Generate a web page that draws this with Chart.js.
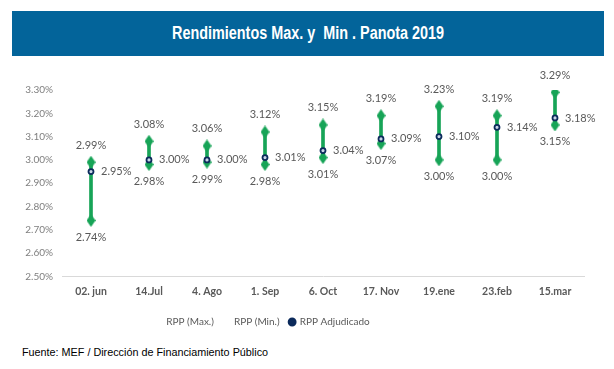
<!DOCTYPE html>
<html>
<head>
<meta charset="utf-8">
<script src="https://cdn.jsdelivr.net/npm/chart.js@4/dist/chart.umd.min.js"></script>
<style>
  body { margin: 0; background: #fff; width: 614px; height: 369px; position: relative; overflow: hidden; }
  #banner {
    position: absolute; left: 12px; top: 11px; width: 592px; height: 45px;
    background: #03649a; color: #fff; text-align: center; line-height: 45px;
  }
  #banner span {
    display: inline-block; transform: scaleX(0.8);
    font-family: 'Liberation Sans', Arial, sans-serif;
    font-weight: bold; font-size: 18px; white-space: pre;
  }
  #wrap { position: absolute; left: 0; top: 60px; width: 614px; height: 285px; }
  #source {
    position: absolute; left: 22px; top: 346px;
    font-family: 'Liberation Sans', Arial, sans-serif; font-size: 10.8px; color: #000;
  }
</style>
</head>
<body>
<div id="banner"><span>Rendimientos Max. y  Min . Panota 2019</span></div>
<div id="wrap"><canvas id="chart"></canvas></div>
<div id="source">Fuente: MEF / Dirección de Financiamiento Público</div>
<script>
// ---------------- DATA ----------------
const fechas = ['02. jun', '14.Jul', '4. Ago', '1. Sep', '6. Oct', '17. Nov', '19.ene', '23.feb', '15.mar'];
const rppMax = [2.99, 3.08, 3.06, 3.12, 3.15, 3.19, 3.23, 3.19, 3.29];
const rppMin = [2.74, 2.98, 2.99, 2.98, 3.01, 3.07, 3.00, 3.00, 3.15];
const rppAdj = [2.95, 3.00, 3.00, 3.01, 3.04, 3.09, 3.10, 3.14, 3.18];
const yTicks = [2.5, 2.6, 2.7, 2.8, 2.9, 3.0, 3.1, 3.2, 3.3];

const GREEN = '#17a457';
const NAVY = '#0b2a5b';
const GREY = '#595959';
const FONT = 'Lato, "Open Sans", sans-serif';

// diamond marker (taller than wide, like the Excel one)
function makeDiamond(w, h, color) {
  const c = document.createElement('canvas');
  c.width = w; c.height = h;
  const g = c.getContext('2d');
  g.fillStyle = color;
  g.beginPath();
  g.moveTo(w / 2, 0);
  g.lineTo(w, h / 2);
  g.lineTo(w / 2, h);
  g.lineTo(0, h / 2);
  g.closePath();
  g.fill();
  return c;
}
const diamond = makeDiamond(9, 13, GREEN);

// ---------------- etiquetas de valores ----------------
const valueLabels = {
  id: 'valueLabels',
  afterDatasetsDraw(chart) {
    const ctx = chart.ctx;
    ctx.save();
    ctx.font = '11px ' + FONT;
    ctx.fillStyle = GREY;
    ctx.textBaseline = 'middle';
    chart.data.datasets.forEach((ds, i) => {
      if (!ds.labelPos) return;
      chart.getDatasetMeta(i).data.forEach((pt, j) => {
        const txt = ds.data[j].toFixed(2) + '%';
        if (ds.labelPos === 'top') {
          ctx.textAlign = 'center';
          ctx.fillText(txt, pt.x, pt.y - 17);
        } else if (ds.labelPos === 'bottom') {
          ctx.textAlign = 'center';
          ctx.fillText(txt, pt.x, pt.y + 17);
        } else {
          ctx.textAlign = 'left';
          ctx.fillText(txt, pt.x + 10, pt.y);
        }
      });
    });
    ctx.restore();
  }
};

// la leyenda de Excel queda un poco a la izquierda del centro
const legendShift = {
  id: 'legendShift',
  afterLayout(chart) {
    chart.legend.left -= 29;
    chart.legend.right -= 29;
  }
};

const ctx = document.getElementById('chart').getContext('2d');

new Chart(ctx, {
  data: {
    labels: fechas,
    datasets: [
      {
        type: 'line', label: 'RPP (Max.)', data: rppMax, showLine: false,
        pointStyle: diamond, pointRadius: 5, borderColor: GREEN, backgroundColor: GREEN,
        labelPos: 'top', order: 2
      },
      {
        type: 'line', label: 'RPP (Min.)', data: rppMin, showLine: false,
        pointStyle: diamond, pointRadius: 5, borderColor: GREEN, backgroundColor: GREEN,
        labelPos: 'bottom', order: 2
      },
      {
        type: 'line', label: 'RPP Adjudicado', data: rppAdj, showLine: false,
        pointStyle: 'circle', pointRadius: 2.5, pointBorderWidth: 1.8,
        borderColor: NAVY, backgroundColor: '#c9d5e8',
        labelPos: 'right', order: 1
      },
      {
        type: 'bar', label: 'rango', data: rppMin.map((v, i) => [v, rppMax[i]]),
        backgroundColor: GREEN, barThickness: 3, order: 5
      }
    ]
  },
  options: {
    responsive: true,
    maintainAspectRatio: false,
    animation: false,
    layout: { padding: { top: 30, right: 30, bottom: 8, left: 0 } },
    plugins: {
      tooltip: { enabled: false },
      legend: {
        position: 'bottom',
        labels: {
          color: GREY,
          font: { size: 10, family: FONT },
          usePointStyle: true,
          boxWidth: 5,
          boxHeight: 5,
          padding: 10,
          filter: item => item.text !== 'rango',
          sort: (a, b) => a.datasetIndex - b.datasetIndex,
          generateLabels(chart) {
            const items = Chart.defaults.plugins.legend.labels.generateLabels(chart);
            items.forEach(it => {
              if (it.datasetIndex < 2) {
                it.pointStyle = 'circle';
                it.fillStyle = 'rgba(0,0,0,0)';
                it.strokeStyle = 'rgba(0,0,0,0)';
              } else if (it.datasetIndex === 2) {
                it.fillStyle = NAVY;
              }
            });
            return items;
          }
        }
      }
    },
    scales: {
      x: {
        offset: true,
        grid: { display: false, drawTicks: false },
        border: { display: true, color: '#d9d9d9', width: 1 },
        ticks: { color: GREY, padding: 9, font: { size: 10.5, weight: 'bold', family: FONT } }
      },
      y: {
        min: yTicks[0],
        max: yTicks[yTicks.length - 1],
        afterFit: s => { s.width = 62; },
        afterBuildTicks: s => { s.ticks = yTicks.map(v => ({ value: v })); },
        grid: { display: false, drawTicks: false },
        border: { display: false },
        ticks: {
          color: '#7f7f7f', padding: 9,
          font: { size: 10, family: FONT },
          callback: v => v.toFixed(2) + '%'
        }
      }
    }
  },
  plugins: [valueLabels, legendShift]
});
</script>
</body>
</html>
